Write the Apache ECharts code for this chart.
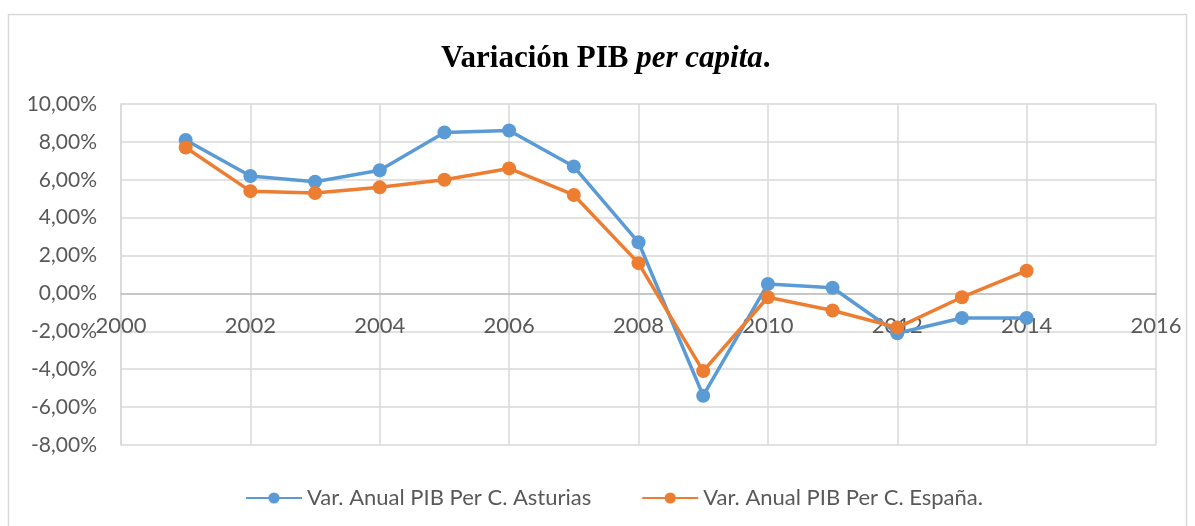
<!DOCTYPE html>
<html>
<head>
<meta charset="utf-8">
<script src="https://cdn.jsdelivr.net/npm/echarts@6/dist/echarts.min.js"></script>
<style>
  html, body { margin: 0; padding: 0; background: #fff; }
  #chart { width: 1195px; height: 526px; }
</style>
</head>
<body>
<div id="chart"></div>
<script>
// años y variación anual del PIB per capita (%)
const years = [2001, 2002, 2003, 2004, 2005, 2006, 2007, 2008, 2009, 2010, 2011, 2012, 2013, 2014];
const asturias = [8.1, 6.2, 5.9, 6.5, 8.5, 8.6, 6.7, 2.7, -5.4, 0.5, 0.3, -2.1, -1.3, -1.3];
const espana = [7.7, 5.4, 5.3, 5.6, 6.0, 6.6, 5.2, 1.6, -4.1, -0.2, -0.9, -1.8, -0.2, 1.2];
const seriesNames = ["Var. Anual PIB Per C. Asturias", "Var. Anual PIB Per C. España."];

const font = "Lato";
const textColor = "#595959";

// área de trazado
const gridTop = 104, gridBottom = 81;
const yMin = -8, yMax = 10;
const plotH = 526 - gridTop - gridBottom;
// el eje X cruza en 0: desplazamos el eje desde abajo
const zeroOffset = plotH * (0 - yMin) / (yMax - yMin);

const chart = echarts.init(document.getElementById("chart"));

function pairs(vals) {
  return years.map((y, i) => [y, vals[i]]);
}

const option = {
  backgroundColor: "#fff",
  animation: false,
  color: ["#5B9BD5", "#ED7D31"],
  graphic: [
    {
      // borde del área del gráfico
      type: "rect",
      shape: { x: 8.5, y: 14.5, width: 1178, height: 530 },
      style: { fill: "none", stroke: "#D9D9D9", lineWidth: 1.5 },
      silent: true,
    },
  ],
  title: {
    left: 436,
    top: 38,
    text: "{a|Variación PIB }{b|per capita}{a|.}",
    textStyle: {
      rich: {
        a: { fontFamily: "Liberation Serif", fontWeight: "bold", fontSize: 31, color: "#000" },
        b: { fontFamily: "Liberation Serif", fontWeight: "bold", fontStyle: "italic", fontSize: 31, color: "#000" },
      },
    },
  },
  legend: {
    bottom: 12,
    left: 240,
    itemWidth: 56,
    itemHeight: 14,
    itemGap: 50,
    data: seriesNames,
    textStyle: { fontFamily: font, fontSize: 22, color: textColor },
  },
  grid: {
    left: 121,
    right: 39,
    top: gridTop,
    bottom: gridBottom,
  },
  xAxis: {
    type: "value",
    min: 2000,
    max: 2016,
    interval: 2,
    offset: -zeroOffset,
    axisLine: { onZero: false, lineStyle: { color: "#BFBFBF", width: 1.5 } },
    axisTick: { show: false },
    axisLabel: {
      margin: 21,
      fontFamily: font,
      fontSize: 22,
      color: textColor,
      showMinLabel: true,
      showMaxLabel: true,
      formatter: (v) => String(v),
    },
    splitLine: { show: true, lineStyle: { color: "#D9D9D9", width: 1.5 } },
  },
  yAxis: {
    type: "value",
    min: yMin,
    max: yMax,
    interval: 2,
    axisLine: { show: true, lineStyle: { color: "#D9D9D9", width: 1.5 } },
    axisTick: { show: false },
    axisLabel: {
      margin: 24,
      fontFamily: font,
      fontSize: 21,
      color: textColor,
      formatter: (v) => v.toFixed(2).replace(".", ",") + "%",
    },
    splitLine: { show: true, lineStyle: { color: "#D9D9D9", width: 1.5 } },
  },
  series: [
    {
      name: seriesNames[0],
      type: "line",
      data: pairs(asturias),
      symbol: "circle",
      symbolSize: 14,
      lineStyle: { width: 3.5 },
    },
    {
      name: seriesNames[1],
      type: "line",
      data: pairs(espana),
      symbol: "circle",
      symbolSize: 14,
      lineStyle: { width: 3.5 },
    },
  ],
};

chart.setOption(option);
</script>
</body>
</html>
